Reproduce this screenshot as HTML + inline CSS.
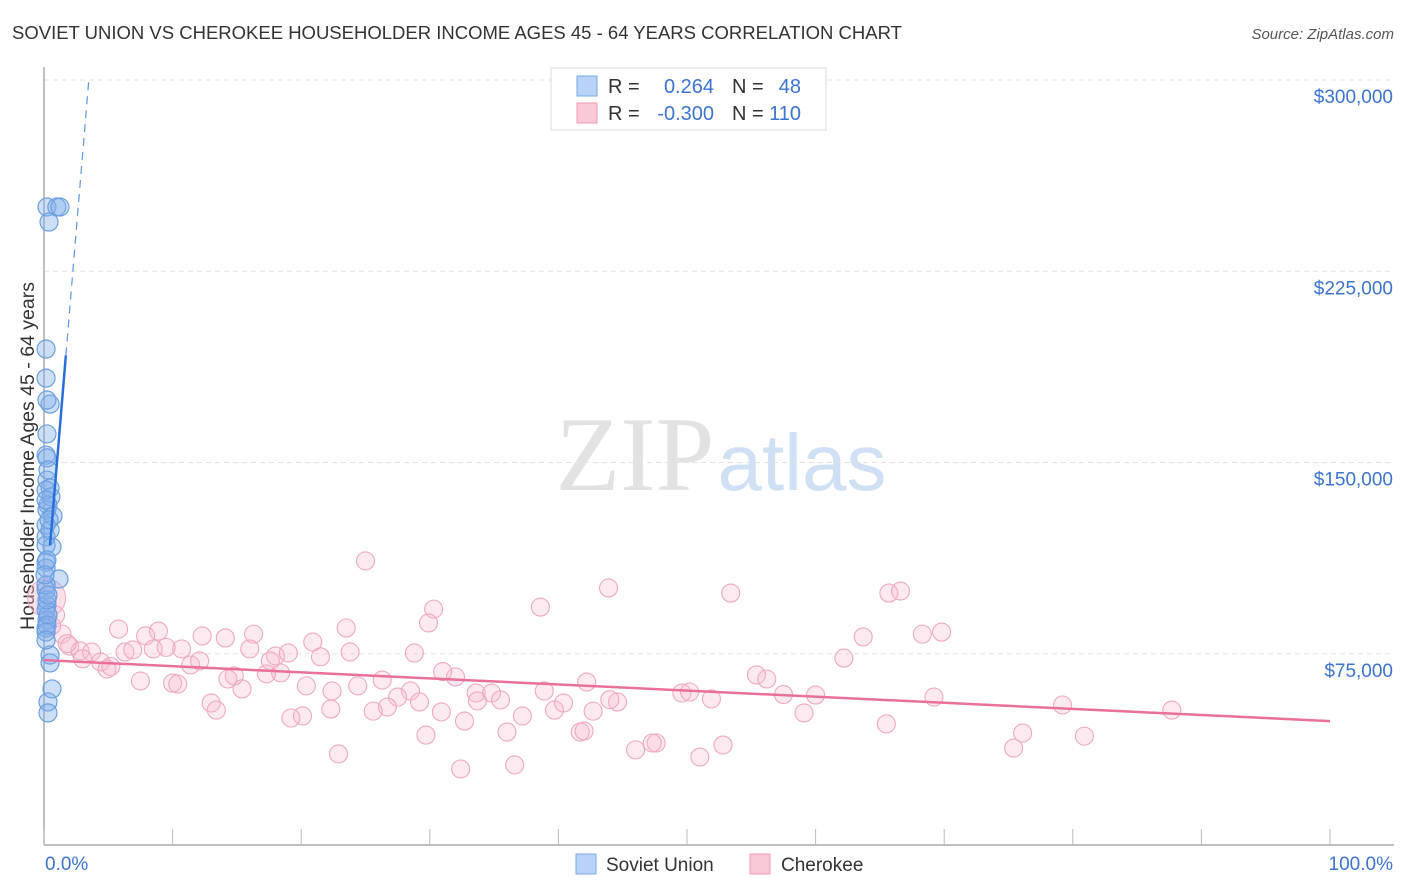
<!DOCTYPE html>
<html><head><meta charset="utf-8">
<style>
body{margin:0;background:#fff;font-family:"Liberation Sans",sans-serif;}
svg{display:block}
</style></head>
<body>
<svg id="chart" width="1406" height="892" xmlns="http://www.w3.org/2000/svg">
<text x="12" y="39" font-size="18.5" fill="#333">SOVIET UNION VS CHEROKEE HOUSEHOLDER INCOME AGES 45 - 64 YEARS CORRELATION CHART</text>
<text x="1394" y="39" font-size="15" fill="#555" text-anchor="end" font-style="italic">Source: ZipAtlas.com</text>
<text x="34" y="456" font-size="19.5" fill="#333" text-anchor="middle" transform="rotate(-90 34 456)">Householder Income Ages 45 - 64 years</text>
<g>
<text x="635" y="490" font-size="106" fill="#e2e2e2" text-anchor="middle" font-family="Liberation Serif,serif">ZIP</text>
<text x="802" y="490" font-size="80" fill="#cfe0f5" text-anchor="middle">atlas</text>
</g>
<g id="grid"></g>
<g id="axes"></g>
<g id="pts"></g>
<g id="trend"></g>
<g>
<rect x="551" y="68" width="275" height="62" fill="#fff" stroke="#ddd"/>
<rect x="577" y="76" width="20" height="20" fill="#b8d3f5" stroke="#7aaae8"/>
<rect x="577" y="103" width="20" height="20" fill="#fbc8d6" stroke="#f09ab5"/>
<text x="608" y="93" font-size="20" fill="#333">R =</text>
<text x="714" y="93" font-size="20" fill="#3b74d1" text-anchor="end">0.264</text>
<text x="732" y="93" font-size="20" fill="#333">N =</text>
<text x="801" y="93" font-size="20" fill="#3b74d1" text-anchor="end">48</text>
<text x="608" y="120" font-size="20" fill="#333">R =</text>
<text x="714" y="120" font-size="20" fill="#3b74d1" text-anchor="end">-0.300</text>
<text x="732" y="120" font-size="20" fill="#333">N =</text>
<text x="801" y="120" font-size="20" fill="#3b74d1" text-anchor="end">110</text>
</g>
<g>
<rect x="576" y="854" width="20" height="20" fill="#b8d3f5" stroke="#7aaae8"/>
<text x="606" y="871" font-size="19" fill="#333">Soviet Union</text>
<rect x="750" y="854" width="20" height="20" fill="#fbc8d6" stroke="#f09ab5"/>
<text x="781" y="871" font-size="19" fill="#333">Cherokee</text>
</g>
</svg>
<script>
const yTicks=[75000,150000,225000,300000];
const yTickLabels=["$75,000","$150,000","$225,000","$300,000"];
const xTickLabels=["0.0%","100.0%"];
const sovietX=[0.23,1.0,1.24,0.39,0.16,0.16,0.47,0.23,0.23,0.16,0.23,0.23,0.47,0.54,0.31,0.23,0.7,0.16,0.16,0.62,0.16,0.16,0.16,1.17,0.23,0.16,0.23,0.16,0.31,0.47,0.47,0.62,0.31,0.31,0.16,0.23,0.16,0.31,0.16,0.47,0.16,0.31,0.23,0.16,0.39,0.23,0.08,0.16];
const sovietY=[250.2,250.2,250.2,244.3,194.5,183.1,172.9,174.5,161.2,152.9,151.8,143.1,140.0,136.5,133.3,131.4,129.0,125.5,120.8,116.9,117.6,110.9,108.6,104.3,94.1,92.2,88.2,85.1,90.2,74.5,71.4,61.2,56.1,51.8,100.0,96.1,102.0,147.1,139.2,123.5,135.3,98.0,86.3,83.5,127.5,111.8,105.9,80.4];
const cherokeeX=[25.0,43.9,53.4,65.7,66.6,30.3,38.6,5.8,8.9,23.5,68.3,69.8,63.7,1.4,0.9,7.9,14.1,16.3,20.9,12.3,2.0,2.8,3.7,4.4,4.9,6.3,6.9,8.5,10.7,11.4,12.1,14.8,16.0,18.0,19.0,23.8,28.8,29.9,32.0,26.3,22.4,20.4,18.4,17.3,14.3,7.5,10.0,10.4,15.4,13.0,13.4,24.4,28.5,33.6,34.8,35.5,33.7,29.2,27.5,26.7,25.6,22.3,20.1,19.2,30.9,32.7,37.2,38.9,39.7,40.4,42.2,42.7,44.6,41.7,42.0,36.0,29.7,22.9,32.4,36.6,46.0,47.6,51.0,52.8,55.4,56.2,49.6,50.2,51.9,60.0,59.1,65.5,69.2,62.2,79.2,87.7,76.1,80.9,75.4,47.3,17.6,3.0,5.2,9.5,21.5,31.0,44.0,57.5,0.6,1.8];
const cherokeeY=[111.4,100.8,98.8,98.8,99.6,92.5,93.3,84.7,83.9,85.1,82.7,83.5,81.6,82.7,90.2,82.0,81.2,82.7,79.6,82.0,78.0,76.1,75.7,71.8,69.0,75.7,76.5,76.9,76.9,70.6,72.2,66.3,76.9,74.1,75.3,75.7,75.3,87.1,65.9,64.7,60.4,62.4,67.5,67.1,65.1,64.3,63.5,63.1,61.2,55.7,52.9,62.4,60.4,59.6,59.6,56.9,56.5,56.1,58.0,54.1,52.5,53.3,50.6,49.8,52.2,48.6,50.6,60.4,52.9,55.7,63.9,52.5,56.1,44.3,44.7,44.3,43.1,35.7,29.8,31.4,37.3,40.0,34.5,39.2,66.7,65.1,59.6,60.0,57.3,58.8,51.8,47.5,58.0,73.3,54.9,52.9,43.9,42.7,38.0,40.0,72.2,73.0,70.0,77.5,73.8,68.0,57.0,59.0,86.0,79.0];
const bigBubble=[0.2,96.9];
const sovietTrend=[89.0,60.6];
const cherokeeTrend=[72.5,48.6];

const NS="http://www.w3.org/2000/svg";
const X=p=>44+p*12.86;
const Y=v=>845-v/300000*765;
function mk(tag,attrs,parent){const e=document.createElementNS(NS,tag);for(const k in attrs)e.setAttribute(k,attrs[k]);parent.appendChild(e);return e;}
const grid=document.getElementById('grid'),axes=document.getElementById('axes'),pts=document.getElementById('pts'),tr=document.getElementById('trend');
yTicks.forEach((v,i)=>{
 const l=mk('line',{x1:44,x2:1394,y1:Y(v),y2:Y(v),stroke:'#e2e2e2','stroke-dasharray':'5,4'},grid);
 
 
 const t=mk('text',{x:1393,y:Y(v)+23,'font-size':19,fill:'#3b74d1','text-anchor':'end'},axes);
 t.textContent=yTickLabels[i];
 
 
});
const ya=mk('line',{x1:44,x2:44,y1:67,y2:845,stroke:'#aaa','stroke-width':1.5},axes);


const xa=mk('line',{x1:44,x2:1394,y1:845,y2:845,stroke:'#aaa','stroke-width':1.5},axes);


for(let i=0;i<=10;i++){
 const tk=mk('line',{x1:X(i*10),x2:X(i*10),y1:829,y2:845,stroke:'#bbb'},axes);
 
 
}
[[0,'start',45],[100,'end',1393]].forEach((d,i)=>{
 const t=mk('text',{x:d[2],y:870,'font-size':19,fill:'#3b74d1','text-anchor':d[1]},axes);
 t.textContent=xTickLabels[i];
 
 
});
const bb=mk('circle',{cx:X(bigBubble[0]),cy:Y(bigBubble[1]*1000),r:19,fill:'rgba(248,180,200,0.4)',stroke:'#eeaac0'},pts);


cherokeeX.forEach((x,i)=>{
 const c=mk('circle',{cx:X(x),cy:Y(cherokeeY[i]*1000),r:9,fill:'rgba(248,185,205,0.3)',stroke:'#f0a8be','stroke-width':1.1},pts);
 
 
});
sovietX.forEach((x,i)=>{
 const c=mk('circle',{cx:X(x),cy:Y(sovietY[i]*1000),r:9,fill:'rgba(130,175,235,0.4)',stroke:'#6a9fe2','stroke-width':1.2},pts);
 
 
});
const sv=p=>(sovietTrend[0]+sovietTrend[1]*p)*1000;
const s1=mk('line',{x1:X(0.47),y1:Y(sv(0.47)),x2:X(1.7),y2:Y(sv(1.7)),stroke:'#2a6fd9','stroke-width':2.5},tr);


const pEnd=(300-sovietTrend[0])/sovietTrend[1];
const s2=mk('line',{x1:X(1.7),y1:Y(sv(1.7)),x2:X(pEnd),y2:Y(sv(pEnd)),stroke:'#5d95e0','stroke-width':1.2,'stroke-dasharray':'8,6'},tr);


const c1=mk('line',{x1:X(0),y1:Y(cherokeeTrend[0]*1000),x2:X(100),y2:Y(cherokeeTrend[1]*1000),stroke:'#e8709a','stroke-width':2.5},tr);


</script>
</body></html>
